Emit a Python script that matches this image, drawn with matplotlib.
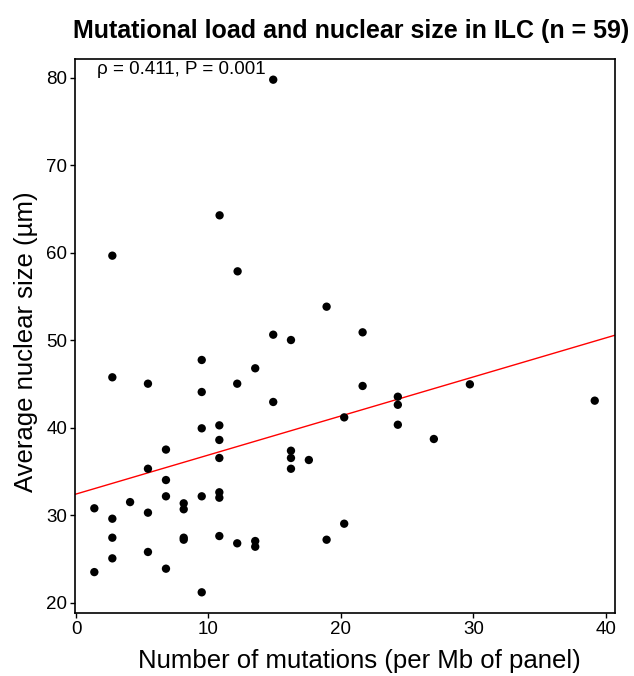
import matplotlib
matplotlib.use("Agg")
import matplotlib.pyplot as plt
import numpy as np

plt.rcParams['font.family'] = ['Liberation Sans', 'DejaVu Sans']

mutations = [1.38, 1.38, 2.74, 2.74, 2.74, 2.74, 4.08, 5.43, 5.43, 5.43, 5.43,
             6.79, 6.79, 6.79, 6.79, 8.13, 8.13, 8.13, 8.13,
             9.49, 9.49, 9.49, 9.49, 9.49,
             10.82, 10.82, 10.82, 10.82, 10.82, 10.82,
             12.17, 12.17, 13.53, 13.53, 13.53, 14.89, 14.89,
             16.23, 16.23, 16.23, 16.23, 17.58, 18.92, 20.25, 20.25,
             2.74, 10.84, 12.2, 14.89, 18.92,
             21.64, 21.64, 24.3, 24.3, 24.3, 27.02, 29.74, 39.17]
nuclear_size = [30.79, 23.5, 45.76, 29.6, 27.43, 25.07, 31.5, 45.03, 35.31, 30.29, 25.8,
                37.5, 34.02, 32.16, 23.89, 31.36, 30.68, 27.43, 27.2,
                47.74, 44.08, 39.93, 32.16, 21.19,
                40.27, 38.6, 36.54, 32.62, 32.0, 27.62,
                45.03, 26.79, 46.79, 27.05, 26.4, 50.63, 42.94,
                50.02, 37.37, 36.54, 35.31, 36.31, 27.2, 41.18, 29.03,
                59.66, 64.27, 57.87, 79.77, 53.83,
                50.9, 44.77, 43.54, 42.62, 40.34, 38.71, 44.96, 43.09]

fit_intercept = 32.42
fit_slope = 0.446

title = "Mutational load and nuclear size in ILC (n = 59)"
xlabel = "Number of mutations (per Mb of panel)"
ylabel = "Average nuclear size (µm)"
annotation = "ρ = 0.411, P = 0.001"
xticks = [0, 10, 20, 30, 40]
yticks = [20, 30, 40, 50, 60, 70, 80]

fig = plt.figure(figsize=(6.34, 6.76), dpi=100)
ax = fig.add_axes([75/634, 1-612.7/676, 540/634, (612.7-59.3)/676])

xlim = (-0.08, 40.7)
ax.set_xlim(*xlim)
ax.set_ylim(18.86, 82.1)

xs = np.array(xlim)
ax.plot(xs, fit_intercept + fit_slope * xs, color='#ff0000', lw=1.0, zorder=2)
ax.scatter(mutations, nuclear_size, s=36, color='black', edgecolors='none', zorder=3)

ax.set_xticks(xticks)
ax.set_yticks(yticks)
ax.tick_params(direction='out', length=3.5, width=1, labelsize=13.5, pad=2.2, colors='black')
for s in ax.spines.values():
    s.set_linewidth(1.2)

ax.set_xlabel(xlabel, fontsize=18.5, labelpad=8.5)
ax.xaxis.label.set_x((359 - 75) / 540)
ax.set_ylabel(ylabel, fontsize=18.5, labelpad=6)
ax.yaxis.label.set_y((612.7 - 342) / 553.4)
fig.text(351/634, 1 - 31/676, title, fontsize=18, fontweight='bold', ha='center', va='center')
ax.text((97 - 75)/540, 0.981, annotation, transform=ax.transAxes, fontsize=13.5, ha='left', va='center')

fig.savefig("out.png", dpi=100)
